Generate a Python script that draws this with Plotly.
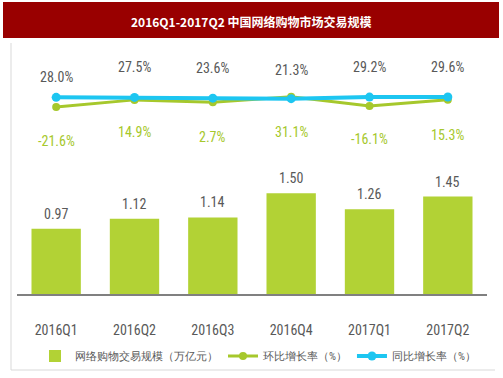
import plotly.graph_objects as go

categories = ["2016Q1", "2016Q2", "2016Q3", "2016Q4", "2017Q1", "2017Q2"]
scale_values = [0.97, 1.12, 1.14, 1.50, 1.26, 1.45]
qoq_values = [-21.6, 14.9, 2.7, 31.1, -16.1, 15.3]
yoy_values = [28.0, 27.5, 23.6, 21.3, 29.2, 29.6]

series_names = ["网络购物交易规模（万亿元）", "环比增长率（%）", "同比增长率（%）"]
title_text = "2016Q1-2017Q2 中国网络购物市场交易规模"

BAR = "#B2D235"
GREEN = "#A6C82C"
BLUE = "#1DC6F1"
GRAY = "#595959"
NARROW = "Liberation Sans Narrow, Roboto Condensed, DejaVu Sans Condensed, sans-serif"

fig = go.Figure()
fig.add_trace(go.Bar(x=categories, y=scale_values, name=series_names[0],
                     marker=dict(color=BAR, line=dict(width=0)), width=0.63))
fig.add_trace(go.Scatter(x=categories, y=qoq_values, name=series_names[1], yaxis="y2",
                         mode="lines+markers", line=dict(color=GREEN, width=3),
                         marker=dict(color=GREEN, size=8, symbol="circle")))
fig.add_trace(go.Scatter(x=categories, y=yoy_values, name=series_names[2], yaxis="y2",
                         mode="lines+markers", line=dict(color=BLUE, width=4),
                         marker=dict(color=BLUE, size=9, symbol="circle")))

ann = []
for c, v in zip(categories, scale_values):
    ann.append(dict(x=c, y=v, xref="x", yref="y", text=f"{v:.2f}", showarrow=False,
                    yshift=15, font=dict(family=NARROW, size=14, color=GRAY)))
yoy_shift = [20, 30, 30, 29, 30, 30]
for c, v, s in zip(categories, yoy_values, yoy_shift):
    ann.append(dict(x=c, y=v, xref="x", yref="y2", text=f"{v:.1f}%", showarrow=False,
                    yshift=s, font=dict(family=NARROW, size=14, color=GRAY)))
qoq_shift = [-34, -32, -35, -35, -33, -35]
for c, v, s in zip(categories, qoq_values, qoq_shift):
    ann.append(dict(x=c, y=v, xref="x", yref="y2", text=f"{v:.1f}%", showarrow=False,
                    yshift=s, font=dict(family=NARROW, size=14, color=GREEN)))
ann.append(dict(x=251 / 503, y=1 - 21 / 378, xref="paper", yref="paper", text=f"<b>{title_text}</b>",
                showarrow=False, xanchor="center", yanchor="middle",
                font=dict(family="Noto Sans CJK SC", size=12, color="white")))

shapes = [
    dict(type="rect", xref="paper", yref="paper", x0=3 / 503, x1=499 / 503,
         y0=1 - 38 / 378, y1=1 - 2 / 378, fillcolor="#990000", line=dict(width=0), layer="below"),
    dict(type="line", xref="paper", yref="paper", x0=11 / 503, x1=11 / 503,
         y0=1 - 370 / 378, y1=1 - 43 / 378, line=dict(color="#D9D9D9", width=1)),
    dict(type="line", xref="paper", yref="paper", x0=11 / 503, x1=495 / 503,
         y0=1 - 370 / 378, y1=1 - 370 / 378, line=dict(color="#D9D9D9", width=1)),
]

fig.update_layout(
    width=503, height=378, margin=dict(l=0, r=0, t=0, b=0, autoexpand=False),
    paper_bgcolor="white", plot_bgcolor="white",
    showlegend=True, bargap=0.37,
    xaxis=dict(domain=[17 / 503, 487 / 503], range=[-0.5, 5.5], type="category",
               showline=True, linecolor="#808080", linewidth=2, showgrid=False,
               ticks="", ticklabelstandoff=22,
               tickfont=dict(family=NARROW, size=14, color=GRAY)),
    yaxis=dict(domain=[1 - 294 / 378, 1 - 45 / 378], range=[0, 3.705], visible=False,
               showgrid=False),
    yaxis2=dict(domain=[1 - 294 / 378, 1 - 45 / 378], range=[-978, 295.6], overlaying="y",
                anchor="x", visible=False, showgrid=False),
    legend=dict(orientation="h", x=258 / 503, xanchor="center", y=1 - 356 / 378, yanchor="middle",
                font=dict(family=NARROW, size=11, color=GRAY), bgcolor="rgba(0,0,0,0)",
                itemwidth=30, tracegroupgap=0),
    annotations=ann, shapes=shapes,
)

fig.write_html("out.html", config={"displayModeBar": False},
               post_script="document.body.style.margin='0px';")
